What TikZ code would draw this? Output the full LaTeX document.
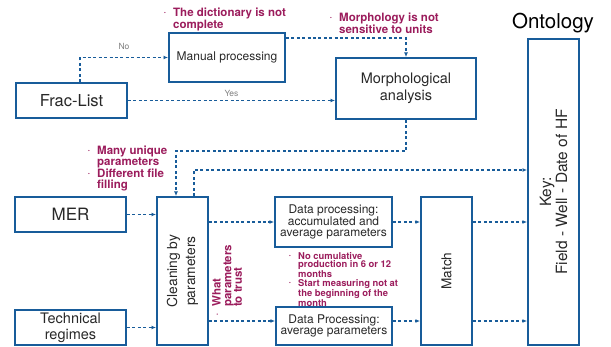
\documentclass[tikz,border=0pt]{standalone}
\usepackage{fontspec}
\setmainfont{TeX Gyre Heros}
\usetikzlibrary{arrows.meta}
\definecolor{boxblue}{RGB}{24,92,154}
\definecolor{notepurple}{RGB}{155,28,92}
\definecolor{txtgray}{RGB}{40,40,40}
\newcommand{\notedot}{\makebox[9pt][l]{\raisebox{1.8pt}{\fontsize{5}{5}\selectfont\textbullet}}}

\begin{document}
\begin{tikzpicture}[x=1pt,y=-1pt,
    box/.style={draw=boxblue, line width=2pt, inner sep=0pt, text=txtgray, align=center},
    boxtxt/.style={text=txtgray, align=center, inner sep=0pt},
    conn/.style={draw=boxblue, line width=1.4pt, dash pattern=on 3pt off 2.4pt, -{Latex[length=4.5pt,width=4pt]}},
    note/.style={text=notepurple, font=\bfseries\fontsize{11.5}{10.7}\selectfont, align=left, inner sep=0pt, anchor=north west},
    yesno/.style={text=gray, font=\fontsize{8.5}{9}\selectfont}]
	\useasboundingbox (0,0) rectangle (611,347);
	% boxes
	\node[box, minimum width=111pt, minimum height=35pt, font=\fontsize{16.5}{18}\selectfont] (frac) at (71.5,100.5) {Frac-List};
	\node[box, minimum width=116pt, minimum height=49pt, font=\fontsize{12}{14}\selectfont] (manual) at (227,57.5) {Manual processing};
	\node[box, minimum width=140pt, minimum height=61pt, font=\fontsize{14.5}{17}\selectfont] (morph) at (406,88.5) {Morphological\\analysis};
	\node[box, minimum width=111pt, minimum height=35pt, font=\fontsize{17}{18}\selectfont] (mer) at (70.5,214.5) {MER};
	\node[box, minimum width=111pt, minimum height=35pt, font=\fontsize{14.5}{16}\selectfont] (tech) at (70.5,327.5) {Technical\\regimes};
	\node[box, minimum width=51pt, minimum height=148pt] (clean) at (182.5,271) {};
	\node[boxtxt, rotate=90, font=\fontsize{13.8}{18}\selectfont] (cleantxt) at (clean) {Cleaning by\\parameters};
	\node[box, minimum width=117pt, minimum height=50pt, font=\fontsize{12}{11.5}\selectfont] (accum) at (333.5,222) {Data processing:\\accumulated and\\average parameters};
	\node[box, minimum width=116pt, minimum height=38pt, font=\fontsize{12}{11.5}\selectfont] (avg) at (334,326) {Data Processing:\\average parameters};
	\node[box, minimum width=51pt, minimum height=148pt] (match) at (446.5,271) {};
	\node[boxtxt, rotate=90, font=\fontsize{13.6}{16}\selectfont] (matchtxt) at (match) {Match};
	\node[box, minimum width=51pt, minimum height=306pt] (onto) at (553.5,192) {};
	\node[boxtxt, rotate=90, font=\fontsize{15.5}{16}\selectfont] (ontotxt) at (onto) {Key:\\Field - Well - Date of HF};
	\node[text=black, font=\fontsize{20.5}{22}\selectfont] (ontotitle) at (553,23) {Ontology};
	% notes
	\node[note] (dictnote) at (164,7.5) {\notedot The dictionary is not\\\hspace*{9pt}complete};
	\node[note] (morphnote) at (330,13) {\notedot Morphology is not\\\hspace*{9pt}sensitive to units};
	\node[note] (cleannote) at (88,146) {\notedot Many unique\\\hspace*{9pt}parameters\\\notedot Different file\\\hspace*{9pt}filling};
	\node[note, rotate=90] (trustnote) at (212,316) {\notedot What\\\hspace*{9pt}parameters\\\hspace*{9pt}to trust};
	\node[note, font=\bfseries\fontsize{9.4}{8.7}\selectfont] (matchnote) at (289,252) {\notedot No cumulative\\\hspace*{9pt}production in 6 or 12\\\hspace*{9pt}months\\\notedot Start measuring not at\\\hspace*{9pt}the beginning of the\\\hspace*{9pt}month};
	% connectors
	\draw[conn] ([xshift=8.5pt]frac.north) |- node[yesno, pos=0.75, above=4pt] (nolabel) {No} (manual.west);
	\draw[conn] (frac.east) -- node[yesno, above] (yeslabel) {Yes} (morph.west |- frac.east);
	\draw[conn] ([yshift=19.5pt]manual.east) -| (morph.north);
	\draw[conn] (morph.south) -- ++(0,31) -| ([xshift=-6.5pt]clean.north);
	\draw[conn] ([xshift=11.5pt]clean.north) |- ([yshift=22pt]onto.west);
	\draw[conn] (mer.east) -- (clean.west |- mer.east);
	\draw[conn] (tech.east) -- (clean.west |- tech.east);
	\draw[conn] (clean.east |- accum.west) -- (accum.west);
	\draw[conn] (accum.east) -- (match.west |- accum.east);
	\draw[conn] (match.east |- accum.east) -- (onto.west |- accum.east);
	\coordinate (lowrow) at ([yshift=5pt]avg.west);
	\draw[conn] (clean.east |- lowrow) -- (lowrow);
	\draw[conn] (lowrow -| avg.east) -- (match.west |- lowrow);
	\draw[conn] (match.east |- lowrow) -- (onto.west |- lowrow);
\end{tikzpicture}
\end{document}
